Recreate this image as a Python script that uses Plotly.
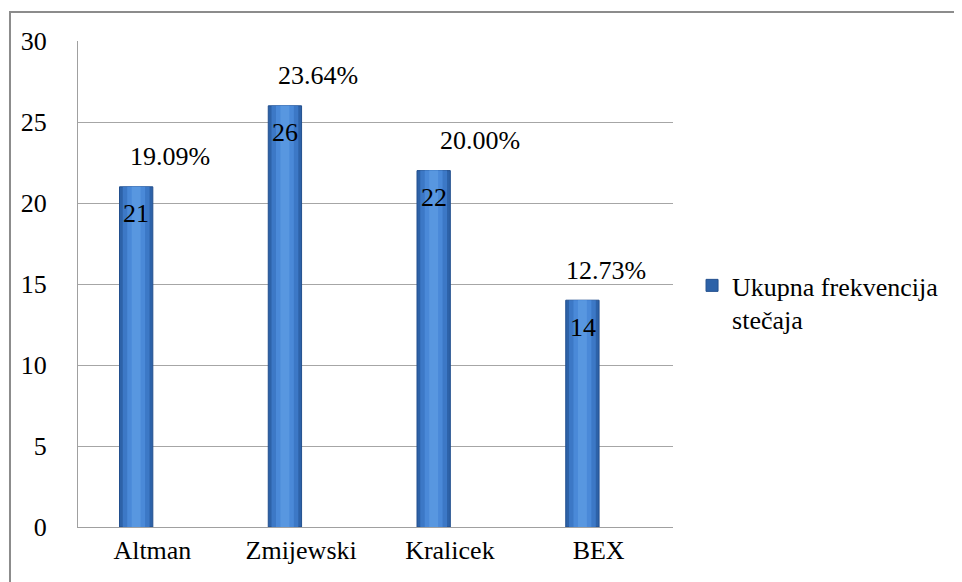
import plotly.graph_objects as go

categories = ["Altman", "Zmijewski", "Kralicek", "BEX"]
values = [21, 26, 22, 14]
percent_labels = ["19.09%", "23.64%", "20.00%", "12.73%"]
series_name = "Ukupna frekvencija<br>stečaja"
y_ticks = [0, 5, 10, 15, 20, 25, 30]

FONT = "Liberation Serif"
xs = list(range(len(categories)))

fig = go.Figure()

# simulated cylinder shading: overlaid bars with same centre, decreasing width
center = -0.109
layers = [
    (0.224, "#2D62A8", "#224F8E", True),
    (0.18, "#3C78C6", None, False),
    (0.12, "#4A89D8", None, False),
    (0.06, "#5897E0", None, False),
]
for w, col, lcol, show in layers:
    fig.add_trace(go.Bar(
        x=xs, y=values, name=series_name,
        width=[w] * len(xs), offset=[center - w / 2] * len(xs),
        marker=dict(color=col, line=dict(color=lcol or col, width=1 if lcol else 0)),
        showlegend=show, hoverinfo="skip",
    ))

pct_shift = [18, 17, 30, 7]
for i, (v, p) in enumerate(zip(values, percent_labels)):
    fig.add_annotation(x=i, y=v, text=p, showarrow=False, xshift=pct_shift[i], yshift=30,
                       font=dict(family=FONT, size=26, color="black"))
    fig.add_annotation(x=i, y=v, text=str(v), showarrow=False, xshift=-16, yshift=-27,
                       font=dict(family=FONT, size=26, color="black"))

fig.update_layout(
    width=954, height=574,
    margin=dict(l=70, r=289, t=33, b=55),
    paper_bgcolor="white", plot_bgcolor="white",
    barmode="overlay",
    font=dict(family=FONT, size=26, color="black"),
    xaxis=dict(range=[-0.5, 3.5], tickvals=xs, ticktext=categories, showline=True,
               linecolor="#A0A0A0", linewidth=1, showgrid=False, ticks="", zeroline=False,
               tickfont=dict(family=FONT, size=26)),
    yaxis=dict(range=[0, 30], tickvals=y_ticks, showline=True, linecolor="#A0A0A0",
               linewidth=1, gridcolor="#A6A6A6", gridwidth=1, ticks="", zeroline=False,
               ticklabelstandoff=25, tickfont=dict(family=FONT, size=26)),
    legend=dict(x=1.032, y=0.462, xanchor="left", yanchor="middle", valign="top",
                font=dict(family=FONT, size=26), bgcolor="rgba(0,0,0,0)", itemwidth=30),
    shapes=[dict(type="rect", xref="paper", yref="paper", x0=-0.1143, x1=1.6,
                 y0=-0.3, y1=1.0597, line=dict(color="#8C8C8C", width=2))],
)

fig.write_html("out.html")
